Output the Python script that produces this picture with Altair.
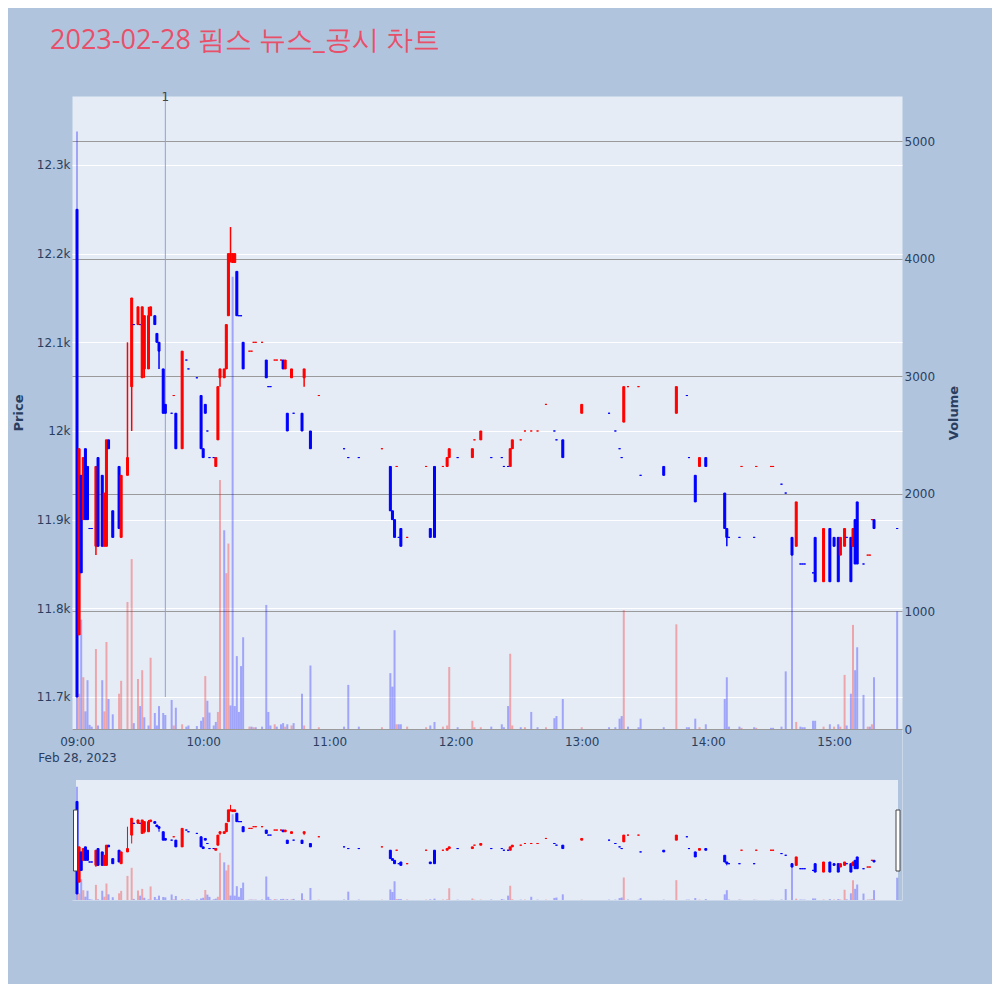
import json
import altair as alt
import pandas as pd

# ---------------- data (minutes after 09:00) ----------------
minutes = [0, 1, 2, 3, 4, 5, 6, 7, 9, 10, 12, 13, 14, 15, 17, 20, 21, 24, 26, 27,
           29, 30, 31, 32, 34, 35, 37, 38, 39, 41, 42, 45, 46, 47, 50, 52, 53, 57, 59, 60,
           61, 62, 63, 65, 66, 67, 68, 70, 71, 72, 73, 74, 75, 76, 77, 78, 79, 82, 83,
           84, 85, 88, 90, 91, 92, 94, 95, 97, 98, 99, 100, 102, 103, 107, 108, 111, 115, 127, 129,
           134, 145, 149, 150, 151, 152, 153, 154, 157, 166, 168, 170, 174, 176, 177, 181, 188, 189, 192, 197,
           202, 203, 205, 206, 207, 211, 213, 216, 219, 223, 227, 228, 231, 240, 253, 256, 258, 259, 260, 262,
           267, 268, 279, 285, 290, 291, 294, 296, 299, 308, 309, 310, 315, 316, 322, 323, 330, 331, 335, 337,
           340, 342, 344, 345, 346, 350, 351, 355, 358, 360, 362, 363, 365, 366, 368, 369, 370, 371, 374, 376,
           377, 378, 379, 390]
opens = [12250, 11770, 11950, 11900, 11980, 11960, 11890, 11890, 11870, 11970, 11950, 11870, 11870, 11990, 11910, 11960, 11880, 11950, 12050, 12120,
         12120, 12120, 12060, 12070, 12070, 12130, 12130, 12110, 12100, 12070, 12030, 12020, 12040, 12020, 11980, 12080, 12070, 12060, 12040, 11980,
         12030, 12000, 11970, 11970, 11960, 11990, 12060, 12060, 12070, 12130, 12200, 12190, 12190, 12180, 12130, 12130, 12100, 12090, 12090,
         12100, 12100, 12100, 12080, 12050, 12050, 12080, 12080, 12080, 12080, 12070, 12020, 12060, 12020, 12020, 12060, 12000, 12040, 11980, 11970,
         11970, 11980, 11960, 11910, 11900, 11960, 11880, 11890, 11880, 11960, 11890, 11960, 11960, 11960, 11970, 11970, 11970, 11990, 11990, 11970,
         11970, 11960, 11960, 11960, 11980, 11990, 12000, 12000, 12000, 12030, 12000, 11990, 11990, 12020, 12020, 12000, 11980, 11970, 12010, 12050,
         12050, 11950, 11960, 12020, 12040, 11970, 11950, 11960, 11970, 11930, 11890, 11880, 11880, 11960, 11880, 11960, 11960, 11960, 11940, 11930,
         11880, 11870, 11850, 11850, 11850, 11840, 11880, 11830, 11890, 11880, 11880, 11860, 11870, 11880, 11880, 11870, 11900, 11920, 11850, 11860,
         11860, 11900, 11900, 11890]
highs = [12250, 11980, 11950, 11970, 11980, 11960, 11890, 11890, 11960, 11970, 11950, 11930, 11990, 11990, 11910, 11960, 11950, 12100, 12150, 12120,
         12140, 12120, 12140, 12130, 12140, 12140, 12130, 12110, 12100, 12070, 12030, 12020, 12040, 12020, 12090, 12080, 12070, 12060, 12040, 11980,
         12030, 12000, 11970, 11970, 11970, 12050, 12070, 12070, 12120, 12200, 12230, 12200, 12200, 12180, 12130, 12130, 12100, 12090, 12090,
         12100, 12100, 12100, 12080, 12050, 12050, 12080, 12080, 12080, 12080, 12080, 12020, 12070, 12020, 12020, 12070, 12000, 12040, 11980, 11970,
         11970, 11980, 11960, 11910, 11900, 11960, 11880, 11890, 11880, 11960, 11890, 11960, 11960, 11970, 11980, 11970, 11980, 11990, 12000, 11970,
         11970, 11960, 11960, 11980, 11990, 11990, 12000, 12000, 12000, 12030, 12000, 11990, 11990, 12030, 12020, 12000, 11980, 11970, 12050, 12050,
         12050, 11950, 11960, 12050, 12040, 11970, 11950, 11970, 11970, 11930, 11890, 11880, 11880, 11960, 11880, 11960, 11960, 11960, 11940, 11930,
         11880, 11920, 11850, 11850, 11850, 11840, 11880, 11890, 11890, 11880, 11880, 11880, 11890, 11880, 11880, 11890, 11900, 11920, 11850, 11860,
         11860, 11900, 11900, 11890]
lows = [11700, 11770, 11840, 11900, 11900, 11900, 11890, 11890, 11860, 11870, 11870, 11870, 11870, 11980, 11880, 11890, 11880, 11950, 12000, 12120,
        12120, 12120, 12060, 12060, 12070, 12130, 12120, 12100, 12070, 12020, 12020, 12020, 12040, 11980, 11980, 12080, 12070, 12060, 11980, 11970,
        12020, 12000, 11970, 11970, 11960, 11990, 12050, 12060, 12070, 12130, 12190, 12190, 12190, 12130, 12130, 12130, 12070, 12090, 12090,
        12100, 12100, 12100, 12060, 12050, 12050, 12080, 12080, 12080, 12070, 12070, 12000, 12060, 12020, 12000, 12050, 11980, 12040, 11980, 11970,
        11970, 11980, 11910, 11900, 11880, 11960, 11880, 11870, 11880, 11960, 11880, 11880, 11960, 11960, 11970, 11970, 11970, 11990, 11990, 11970,
        11970, 11960, 11960, 11960, 11980, 11990, 12000, 12000, 12000, 12030, 12000, 11990, 11970, 12020, 12020, 12000, 11980, 11970, 12010, 12050,
        12050, 11950, 11950, 12020, 12040, 11970, 11920, 11960, 11960, 11890, 11870, 11880, 11880, 11960, 11880, 11960, 11960, 11960, 11940, 11930,
        11860, 11870, 11850, 11850, 11850, 11840, 11830, 11830, 11830, 11870, 11830, 11860, 11870, 11880, 11830, 11870, 11850, 11850, 11850, 11860,
        11860, 11900, 11890, 11890]
closes = [11700, 11980, 11840, 11970, 11900, 11900, 11890, 11890, 11960, 11870, 11870, 11930, 11990, 11980, 11880, 11890, 11950, 11970, 12150, 12120,
          12140, 12120, 12140, 12130, 12130, 12140, 12120, 12100, 12090, 12020, 12020, 12020, 12040, 11980, 12090, 12080, 12070, 12060, 11980, 11970,
          12020, 12000, 11970, 11970, 11970, 12050, 12070, 12070, 12120, 12200, 12200, 12200, 12200, 12130, 12130, 12130, 12070, 12090, 12090,
          12100, 12100, 12100, 12060, 12050, 12050, 12080, 12080, 12080, 12070, 12080, 12000, 12070, 12020, 12000, 12070, 11980, 12040, 11980, 11970,
          11970, 11980, 11910, 11900, 11880, 11960, 11880, 11870, 11880, 11960, 11880, 11880, 11960, 11970, 11980, 11970, 11980, 11990, 12000, 11970,
          11970, 11960, 11960, 11980, 11990, 11990, 12000, 12000, 12000, 12030, 12000, 11990, 11970, 12030, 12020, 12000, 11980, 11970, 12050, 12050,
          12050, 11950, 11950, 12050, 12040, 11970, 11920, 11970, 11960, 11890, 11880, 11880, 11880, 11960, 11880, 11960, 11960, 11960, 11940, 11930,
          11860, 11920, 11850, 11850, 11850, 11840, 11830, 11890, 11830, 11870, 11830, 11880, 11890, 11880, 11830, 11890, 11850, 11850, 11850, 11860,
          11860, 11900, 11890, 11890]
volumes = [5080, 300, 930, 440, 150, 415, 35, 20, 680, 30, 415, 150, 740, 255, 125, 300, 410, 1080, 1445, 50,
           425, 195, 500, 100, 30, 606, 136, 30, 195, 136, 119, 247, 30, 181, 40, 20, 30, 25, 70, 100,
           450, 240, 140, 30, 60, 145, 2117, 1690, 1325, 1577, 200, 3846, 195, 620, 145, 535, 780, 20, 20,
           15, 15, 20, 1055, 145, 30, 40, 20, 40, 50, 20, 40, 30, 50, 300, 30, 540, 15, 20, 375,
           20, 15, 475, 360, 840, 40, 40, 40, 20, 15, 30, 60, 20, 30, 527, 15, 70, 15, 15, 20,
           40, 15, 195, 640, 30, 15, 15, 145, 15, 15, 92, 110, 255, 15, 15, 15, 88, 110, 1010, 20,
           15, 88, 15, 890, 15, 15, 88, 15, 40, 255, 440, 20, 20, 10, 15, 10, 10, 10, 20, 490,
           1630, 60, 20, 15, 15, 70, 70, 20, 40, 20, 40, 20, 460, 30, 300, 885, 500, 695, 290, 20,
           20, 40, 440, 1000]

price_ticks = [11700, 11800, 11900, 12000, 12100, 12200, 12300]
volume_ticks = [0, 1000, 2000, 3000, 4000, 5000]
time_tick_values = [0, 60, 120, 180, 240, 300, 360]
time_tick_labels = ["09:00", "10:00", "11:00", "12:00", "13:00", "14:00", "15:00"]
date_label = "Feb 28, 2023"
news_minutes = [42]
news_labels = ["1"]
title_text = "2023-02-28 핌스 뉴스_공시 차트"

# ---------------- derived table ----------------
rows = []
prev_close = None
prev_dir = "down"
for m, o, h, l, c, v in zip(minutes, opens, highs, lows, closes, volumes):
    if c > o:
        cdir = "up"
    elif c < o:
        cdir = "down"
    else:
        if prev_close is None or c == prev_close:
            cdir = prev_dir
        else:
            cdir = "up" if c > prev_close else "down"
    vdir = "up" if (prev_close is not None and c > prev_close) else "down"
    rows.append(dict(m=m, o=o, h=h, l=l, c=c, v=v, v0=0,
                     bl=min(o, c), bh=max(o, c), cdir=cdir, vdir=vdir))
    prev_close = c
    prev_dir = cdir
df = pd.DataFrame(rows)
news_df = pd.DataFrame({"m": news_minutes, "label": news_labels})

# ---------------- geometry / styles ----------------
W, H = 830, 804
MAIN_H = 633
SL_TOP, SL_BOT = 684, 804
FONT = "DejaVu Sans"
TITLE_FONT = "Open Sans"
AXIS_COLOR = "#2a3f5f"
PAGE_BG = "#B0C4DE"
PLOT_BG = "#E5ECF6"

x_scale = alt.Scale(domain=[-2.38, 392.3], nice=False, zero=False, padding=0)
pmain = alt.Scale(domain=[11663.9, 12377.8], range=[MAIN_H, 0], nice=False, zero=False)
vmain = alt.Scale(domain=[0, 5382.7], range=[MAIN_H, 0], nice=False, zero=False)
pslide = alt.Scale(domain=[11663.9, 12377.8], range=[SL_BOT, SL_TOP], nice=False, zero=False)
vslide = alt.Scale(domain=[0, 5382.7], range=[SL_BOT, SL_TOP], nice=False, zero=False)
col_scale = alt.Scale(domain=["up", "down"], range=["#FF0000", "#0000FF"])

label_expr = (f"datum.value == {time_tick_values[0]} ? "
              f"['{time_tick_labels[0]}', '{date_label}'] : "
              f"{json.dumps(time_tick_labels)}[round(datum.value / 60)]")
x_axis = alt.Axis(values=time_tick_values, labelExpr=label_expr, grid=False, domain=False,
                  ticks=False, labelPadding=7, offset=-(H - MAIN_H), title=None,
                  labelFont=FONT, labelFontSize=12, labelColor=AXIS_COLOR,
                  labelLineHeight=16, labelOverlap=False, labelBound=False, zindex=1)


def X():
    return alt.X("m:Q", scale=x_scale, axis=x_axis)


price_axis = alt.Axis(orient="left", values=price_ticks, format=".3~s", grid=True,
                      gridColor="#FFFFFF", gridWidth=1, domain=False, ticks=False,
                      labelPadding=2, labelFont=FONT, labelFontSize=12, labelColor=AXIS_COLOR,
                      title="Price", titleFont=FONT, titleFontSize=13, titleColor=AXIS_COLOR,
                      titleFontWeight="bold", titleAngle=270, titleX=-54, titleY=MAIN_H / 2,
                      titleAlign="center", titleBaseline="middle")
vol_axis = alt.Axis(orient="right", values=volume_ticks, format="d", grid=True,
                    gridColor="#9A9A9A", gridWidth=1, domain=False, ticks=False,
                    labelPadding=2, labelFont=FONT, labelFontSize=12, labelColor=AXIS_COLOR,
                    title="Volume", titleFont=FONT, titleFontSize=13, titleColor=AXIS_COLOR,
                    titleFontWeight="bold", titleAngle=270, titleX=51, titleY=MAIN_H / 2,
                    titleAlign="center", titleBaseline="middle")

base = alt.Chart(df)

# main volume
vol_main = base.mark_rule(strokeWidth=2, opacity=0.3).encode(
    x=X(),
    y=alt.Y("v:Q", scale=vmain, axis=vol_axis),
    y2="v0:Q",
    color=alt.Color("vdir:N", scale=col_scale, legend=None),
)

# main candles + news line
news_line = alt.Chart(news_df).mark_rule(color="#8FA0D8", strokeWidth=1).encode(
    x=X(), y=alt.Y(datum=11700, scale=pmain, axis=price_axis), y2=alt.value(0)
)
wick_main = base.mark_rule(strokeWidth=1.5).encode(
    x=X(), y=alt.Y("l:Q", scale=pmain, axis=price_axis), y2="h:Q",
    color=alt.Color("cdir:N", scale=col_scale, legend=None),
)
body_main = base.mark_bar(size=2, strokeWidth=1).encode(
    x=X(), y=alt.Y("bl:Q", scale=pmain, axis=price_axis), y2="bh:Q",
    color=alt.Color("cdir:N", scale=col_scale, legend=None),
    stroke=alt.Stroke("cdir:N", scale=col_scale, legend=None),
)
candles_main = alt.layer(news_line, wick_main, body_main)

# page-coloured gap between plot and range slider
gap = alt.Chart(news_df).mark_rect(color=PAGE_BG).encode(
    x=alt.value(0), x2=alt.value(W), y=alt.value(MAIN_H + 1), y2=alt.value(SL_TOP)
)
side_l = alt.Chart(news_df).mark_rect(color=PAGE_BG).encode(
    x=alt.value(0), x2=alt.value(4), y=alt.value(SL_TOP), y2=alt.value(SL_BOT)
)
side_r = alt.Chart(news_df).mark_rect(color=PAGE_BG).encode(
    x=alt.value(W - 4), x2=alt.value(W), y=alt.value(SL_TOP), y2=alt.value(SL_BOT)
)

# range slider contents
vol_slide = base.mark_rule(strokeWidth=2, opacity=0.3).encode(
    x=X(), y=alt.Y("v:Q", scale=vslide, axis=None), y2="v0:Q",
    color=alt.Color("vdir:N", scale=col_scale, legend=None),
)
wick_slide = base.mark_rule(strokeWidth=1).encode(
    x=X(), y=alt.Y("l:Q", scale=pslide, axis=None), y2="h:Q",
    color=alt.Color("cdir:N", scale=col_scale, legend=None),
)
body_slide = base.mark_bar(size=2, strokeWidth=1).encode(
    x=X(), y=alt.Y("bl:Q", scale=pslide, axis=None), y2="bh:Q",
    color=alt.Color("cdir:N", scale=col_scale, legend=None),
    stroke=alt.Stroke("cdir:N", scale=col_scale, legend=None),
)
candles_slide = alt.layer(wick_slide, body_slide)

handle_l = alt.Chart(news_df).mark_rect(fill="#FFFFFF", stroke="#444444", strokeWidth=1).encode(
    x=alt.value(1.5), x2=alt.value(5.5), y=alt.value(714), y2=alt.value(775)
)
handle_r = alt.Chart(news_df).mark_rect(fill="#FFFFFF", stroke="#444444", strokeWidth=1).encode(
    x=alt.value(W - 6), x2=alt.value(W - 2), y=alt.value(714), y2=alt.value(775)
)

news_text = alt.Chart(news_df).mark_text(font=FONT, fontSize=12, color="#444444",
                                          baseline="middle", align="center").encode(
    x=X(), y=alt.value(1), text="label:N"
)

chart = alt.layer(
    vol_main, candles_main, gap, side_l, side_r, vol_slide, candles_slide,
    handle_l, handle_r, news_text,
).resolve_scale(y="independent", color="shared").properties(
    width=W, height=H,
    title=alt.TitleParams(text=title_text, anchor="start", frame="group", font=TITLE_FONT,
                          fontSize=27, fontWeight="normal", color="#E8506A", dx=-22,
                          offset=36),
    autosize=alt.AutoSizeParams(type="none"),
    padding={"left": 64, "top": 88, "right": 90, "bottom": 84},
    background=PAGE_BG,
).configure_view(fill=PLOT_BG, stroke="transparent")

chart.save("out.html", embed_options={"renderer": "svg", "actions": False})
